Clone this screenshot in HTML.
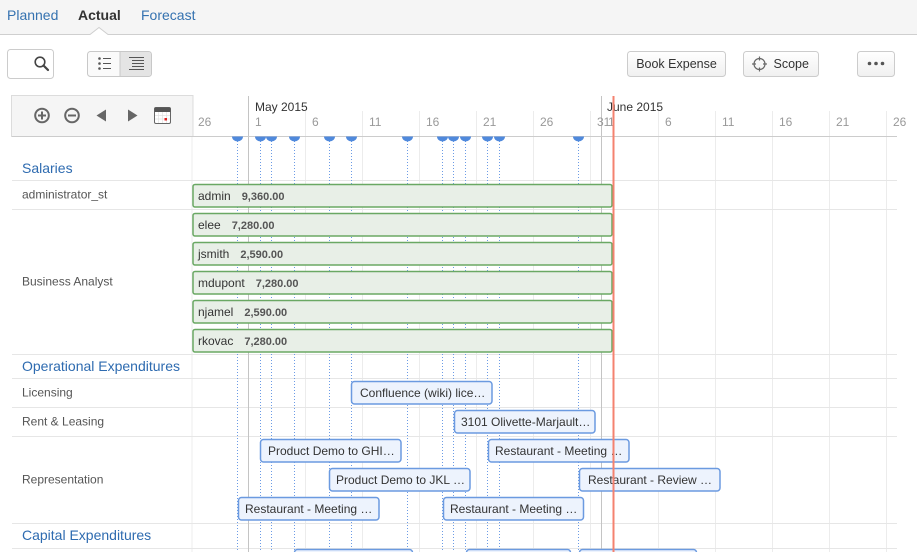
<!DOCTYPE html>
<html><head><meta charset="utf-8"><style>
html,body{margin:0;padding:0;background:#fff;}
svg{display:block;font-family:"Liberation Sans",Arial,sans-serif;}
</style></head><body>
<svg width="917" height="552" viewBox="0 0 917 552" xmlns="http://www.w3.org/2000/svg">
<defs>
<linearGradient id="btn" x1="0" y1="0" x2="0" y2="1"><stop offset="0" stop-color="#ffffff"/><stop offset="1" stop-color="#f0f0f0"/></linearGradient>
</defs>
<!-- tab bar -->
<rect x="0" y="0" width="917" height="34.5" fill="#f5f5f5"/>
<line x1="0" y1="34.5" x2="917" y2="34.5" stroke="#cfcfcf"/>
<path d="M90 35 L99 27.5 L108 35 Z" fill="#fff"/>
<path d="M90 34.5 L99 27.5 L108 34.5" fill="none" stroke="#cfcfcf"/>
<text x="7" y="20" font-size="14" fill="#3572b0">Planned</text>
<text x="78" y="20" font-size="14" font-weight="bold" fill="#333">Actual</text>
<text x="141" y="20" font-size="14" fill="#3572b0">Forecast</text>

<!-- search box -->
<rect x="7.5" y="49.5" width="46" height="29" rx="3" fill="#fff" stroke="#ccc"/>
<circle cx="40" cy="62" r="4.8" fill="none" stroke="#444" stroke-width="1.6"/>
<line x1="43.5" y1="65.5" x2="48" y2="70" stroke="#444" stroke-width="2.2" stroke-linecap="round"/>

<!-- view toggle -->
<rect x="87.5" y="51.5" width="64" height="25" rx="3" fill="#fafafa" stroke="#c8c8c8"/>
<path d="M120 52 H148.5 a2.5 2.5 0 0 1 2.5 2.5 V73.5 a2.5 2.5 0 0 1 -2.5 2.5 H120 Z" fill="#e4e4e4"/>
<line x1="120" y1="51.5" x2="120" y2="76.5" stroke="#c8c8c8"/>
<g fill="#555">
<circle cx="99.5" cy="58.5" r="1.3"/><circle cx="99.5" cy="63.5" r="1.3"/><circle cx="99.5" cy="68.5" r="1.3"/>
</g>
<g stroke="#555" stroke-width="1">
<line x1="103" y1="58.5" x2="111" y2="58.5"/><line x1="103" y1="63.5" x2="111" y2="63.5"/><line x1="103" y1="68.5" x2="111" y2="68.5"/>
<line x1="129" y1="57.5" x2="144" y2="57.5"/><line x1="132" y1="60.5" x2="144" y2="60.5"/><line x1="132" y1="63.5" x2="144" y2="63.5"/><line x1="132" y1="66.5" x2="144" y2="66.5"/><line x1="129" y1="69.5" x2="144" y2="69.5"/>
</g>

<!-- buttons -->
<rect x="627.5" y="51.5" width="98" height="25" rx="3" fill="url(#btn)" stroke="#ccc"/>
<text x="676.5" y="68" font-size="12.5" fill="#333" text-anchor="middle">Book Expense</text>
<rect x="743.5" y="51.5" width="75" height="25" rx="3" fill="url(#btn)" stroke="#ccc"/>
<circle cx="759.5" cy="64" r="5.5" fill="none" stroke="#666" stroke-width="1.2"/>
<g stroke="#666" stroke-width="1.2"><line x1="752" y1="64" x2="756" y2="64"/><line x1="763" y1="64" x2="767" y2="64"/><line x1="759.5" y1="56.5" x2="759.5" y2="60.5"/><line x1="759.5" y1="67.5" x2="759.5" y2="71.5"/></g>
<text x="773.5" y="68" font-size="12.5" fill="#333">Scope</text>
<rect x="857.5" y="51.5" width="37" height="25" rx="3" fill="url(#btn)" stroke="#ccc"/>
<g fill="#555"><circle cx="869.5" cy="63.5" r="1.8"/><circle cx="876" cy="63.5" r="1.8"/><circle cx="882.5" cy="63.5" r="1.8"/></g>

<!-- day grid lines -->
<g stroke="#ececec" stroke-width="1">
<line x1="305.5" y1="111" x2="305.5" y2="552"/>
<line x1="362.5" y1="111" x2="362.5" y2="552"/>
<line x1="419.5" y1="111" x2="419.5" y2="552"/>
<line x1="476.5" y1="111" x2="476.5" y2="552"/>
<line x1="533.5" y1="111" x2="533.5" y2="552"/>
<line x1="590.5" y1="111" x2="590.5" y2="552"/>
<line x1="658.5" y1="111" x2="658.5" y2="552"/>
<line x1="715.5" y1="111" x2="715.5" y2="552"/>
<line x1="772.5" y1="111" x2="772.5" y2="552"/>
<line x1="829.5" y1="111" x2="829.5" y2="552"/>
<line x1="886.5" y1="111" x2="886.5" y2="552"/>
<line x1="192" y1="136" x2="192" y2="552"/>
</g>

<!-- row separators -->
<g stroke="#e6e6e6" stroke-width="1">
<line x1="12" y1="180.5" x2="897" y2="180.5"/>
<line x1="12" y1="209.5" x2="897" y2="209.5"/>
<line x1="12" y1="354.5" x2="897" y2="354.5"/>
<line x1="12" y1="378.5" x2="897" y2="378.5"/>
<line x1="12" y1="407.5" x2="897" y2="407.5"/>
<line x1="12" y1="436.5" x2="897" y2="436.5"/>
<line x1="12" y1="523.5" x2="897" y2="523.5"/>
<line x1="12" y1="548.5" x2="897" y2="548.5"/>
</g>

<!-- month lines -->
<g stroke="#c4c4c4" stroke-width="1">
<line x1="248.5" y1="96" x2="248.5" y2="552"/>
<line x1="601.5" y1="96" x2="601.5" y2="552"/>
</g>

<!-- chart header panel -->
<rect x="11.5" y="95.5" width="181.5" height="41" fill="#f5f5f5" stroke="#dcdcdc"/>
<circle cx="42" cy="115.5" r="6.8" fill="none" stroke="#666" stroke-width="2"/>
<line x1="38" y1="115.5" x2="46" y2="115.5" stroke="#666" stroke-width="2"/>
<line x1="42" y1="111.5" x2="42" y2="119.5" stroke="#666" stroke-width="2"/>
<circle cx="72" cy="115.5" r="6.8" fill="none" stroke="#666" stroke-width="2"/>
<line x1="68" y1="115.5" x2="76" y2="115.5" stroke="#666" stroke-width="2"/>
<polygon points="96.5,115.5 106,109.5 106,121.5" fill="#666"/>
<polygon points="128,109.5 128,121.5 137.5,115.5" fill="#666"/>
<rect x="154.5" y="107.5" width="16" height="16" rx="1.5" fill="#fff" stroke="#666"/>
<rect x="154.5" y="107.5" width="16" height="4.5" fill="#555"/>
<g stroke="#ddd" stroke-width="0.6"><line x1="155" y1="115.5" x2="170" y2="115.5"/><line x1="155" y1="119" x2="170" y2="119"/><line x1="158.5" y1="112" x2="158.5" y2="123"/><line x1="162.5" y1="112" x2="162.5" y2="123"/><line x1="166.5" y1="112" x2="166.5" y2="123"/></g>
<rect x="164.5" y="118" width="2.5" height="2.5" fill="#e02020"/>

<!-- axis line -->
<line x1="12" y1="136.5" x2="897" y2="136.5" stroke="#cccccc"/>

<!-- tick labels -->
<g font-size="12" fill="#999">
<text x="198" y="126">26</text>
<text x="255" y="126">1</text>
<text x="312" y="126">6</text>
<text x="369" y="126">11</text>
<text x="426" y="126">16</text>
<text x="483" y="126">21</text>
<text x="540" y="126">26</text>
<text x="597" y="126">31</text>
<text x="608" y="126">1</text>
<text x="665" y="126">6</text>
<text x="722" y="126">11</text>
<text x="779" y="126">16</text>
<text x="836" y="126">21</text>
<text x="893" y="126">26</text>
</g>
<g font-size="12" fill="#333">
<text x="255" y="111">May 2015</text>
<text x="607" y="111">June 2015</text>
</g>

<!-- dotted marker lines -->
<g stroke="#6b9be6" stroke-width="1" stroke-dasharray="1,2">
<line x1="237.5" y1="141" x2="237.5" y2="552"/>
<line x1="260.5" y1="141" x2="260.5" y2="552"/>
<line x1="271.5" y1="141" x2="271.5" y2="552"/>
<line x1="294.5" y1="141" x2="294.5" y2="552"/>
<line x1="329.5" y1="141" x2="329.5" y2="552"/>
<line x1="351.5" y1="141" x2="351.5" y2="552"/>
<line x1="407.5" y1="141" x2="407.5" y2="552"/>
<line x1="442.5" y1="141" x2="442.5" y2="552"/>
<line x1="453.5" y1="141" x2="453.5" y2="552"/>
<line x1="465.5" y1="141" x2="465.5" y2="552"/>
<line x1="487.5" y1="141" x2="487.5" y2="552"/>
<line x1="499.5" y1="141" x2="499.5" y2="552"/>
<line x1="578.5" y1="141" x2="578.5" y2="552"/>
</g>
<!-- markers -->
<g fill="#4f89dc">
<path d="M232 136.5 A5.5 5 0 0 0 243 136.5 Z"/>
<path d="M255 136.5 A5.5 5 0 0 0 266 136.5 Z"/>
<path d="M266 136.5 A5.5 5 0 0 0 277 136.5 Z"/>
<path d="M289 136.5 A5.5 5 0 0 0 300 136.5 Z"/>
<path d="M324 136.5 A5.5 5 0 0 0 335 136.5 Z"/>
<path d="M346 136.5 A5.5 5 0 0 0 357 136.5 Z"/>
<path d="M402 136.5 A5.5 5 0 0 0 413 136.5 Z"/>
<path d="M437 136.5 A5.5 5 0 0 0 448 136.5 Z"/>
<path d="M448 136.5 A5.5 5 0 0 0 459 136.5 Z"/>
<path d="M460 136.5 A5.5 5 0 0 0 471 136.5 Z"/>
<path d="M482 136.5 A5.5 5 0 0 0 493 136.5 Z"/>
<path d="M494 136.5 A5.5 5 0 0 0 505 136.5 Z"/>
<path d="M573 136.5 A5.5 5 0 0 0 584 136.5 Z"/>
</g>

<!-- section headings -->
<g font-size="14" fill="#2e6bb0">
<text x="22" y="173">Salaries</text>
<text x="22" y="371">Operational Expenditures</text>
<text x="22" y="540">Capital Expenditures</text>
</g>
<!-- row labels -->
<g font-size="12" fill="#555">
<text x="22" y="198.5">administrator_st</text>
<text x="22" y="285.5">Business Analyst</text>
<text x="22" y="396.5">Licensing</text>
<text x="22" y="425.5">Rent &amp; Leasing</text>
<text x="22" y="483.5">Representation</text>
</g>

<!-- salary bars -->
<g fill="#e8efe7" stroke="#6aa864" stroke-width="1.5">
<rect x="193" y="184.5" width="419" height="22.5" rx="2"/>
<rect x="193" y="213.5" width="419" height="22.5" rx="2"/>
<rect x="193" y="242.5" width="419" height="22.5" rx="2"/>
<rect x="193" y="271.5" width="419" height="22.5" rx="2"/>
<rect x="193" y="300.5" width="419" height="22.5" rx="2"/>
<rect x="193" y="329.5" width="419" height="22.5" rx="2"/>
</g>
<g font-size="12" fill="#333">
<text x="198" y="200">admin<tspan dx="11" font-weight="bold" font-size="11" fill="#555">9,360.00</tspan></text>
<text x="198" y="229">elee<tspan dx="11" font-weight="bold" font-size="11" fill="#555">7,280.00</tspan></text>
<text x="198" y="258">jsmith<tspan dx="11" font-weight="bold" font-size="11" fill="#555">2,590.00</tspan></text>
<text x="198" y="287">mdupont<tspan dx="11" font-weight="bold" font-size="11" fill="#555">7,280.00</tspan></text>
<text x="198" y="316">njamel<tspan dx="11" font-weight="bold" font-size="11" fill="#555">2,590.00</tspan></text>
<text x="198" y="345">rkovac<tspan dx="11" font-weight="bold" font-size="11" fill="#555">7,280.00</tspan></text>
</g>

<!-- expense bars -->
<g fill="#edf3fd" stroke="#6b9ae0" stroke-width="1.5">
<rect x="351.5" y="381.5" width="140.5" height="22.5" rx="3"/>
<rect x="454.5" y="410.5" width="140.5" height="22.5" rx="3"/>
<rect x="260.5" y="439.5" width="140.5" height="22.5" rx="3"/>
<rect x="488.5" y="439.5" width="140.5" height="22.5" rx="3"/>
<rect x="329.5" y="468.5" width="140.5" height="22.5" rx="3"/>
<rect x="579.5" y="468.5" width="140.5" height="22.5" rx="3"/>
<rect x="238.5" y="497.5" width="140.5" height="22.5" rx="3"/>
<rect x="443.5" y="497.5" width="140" height="22.5" rx="3"/>
<rect x="294.5" y="549.5" width="118" height="22.5" rx="3"/>
<rect x="466.5" y="549.5" width="104" height="22.5" rx="3"/>
<rect x="579.5" y="549.5" width="117" height="22.5" rx="3"/>
</g>
<g font-size="12" fill="#333">
<text x="360" y="397">Confluence (wiki) lice…</text>
<text x="461" y="426">3101 Olivette-Marjault…</text>
<text x="268" y="455">Product Demo to GHI…</text>
<text x="495" y="455">Restaurant - Meeting …</text>
<text x="336" y="484">Product Demo to JKL …</text>
<text x="588" y="484">Restaurant - Review …</text>
<text x="245" y="513">Restaurant - Meeting …</text>
<text x="450" y="513">Restaurant - Meeting …</text>
</g>

<!-- today line -->
<line x1="613.5" y1="96" x2="613.5" y2="552" stroke="#f4826f" stroke-width="2"/>
</svg>
</body></html>
